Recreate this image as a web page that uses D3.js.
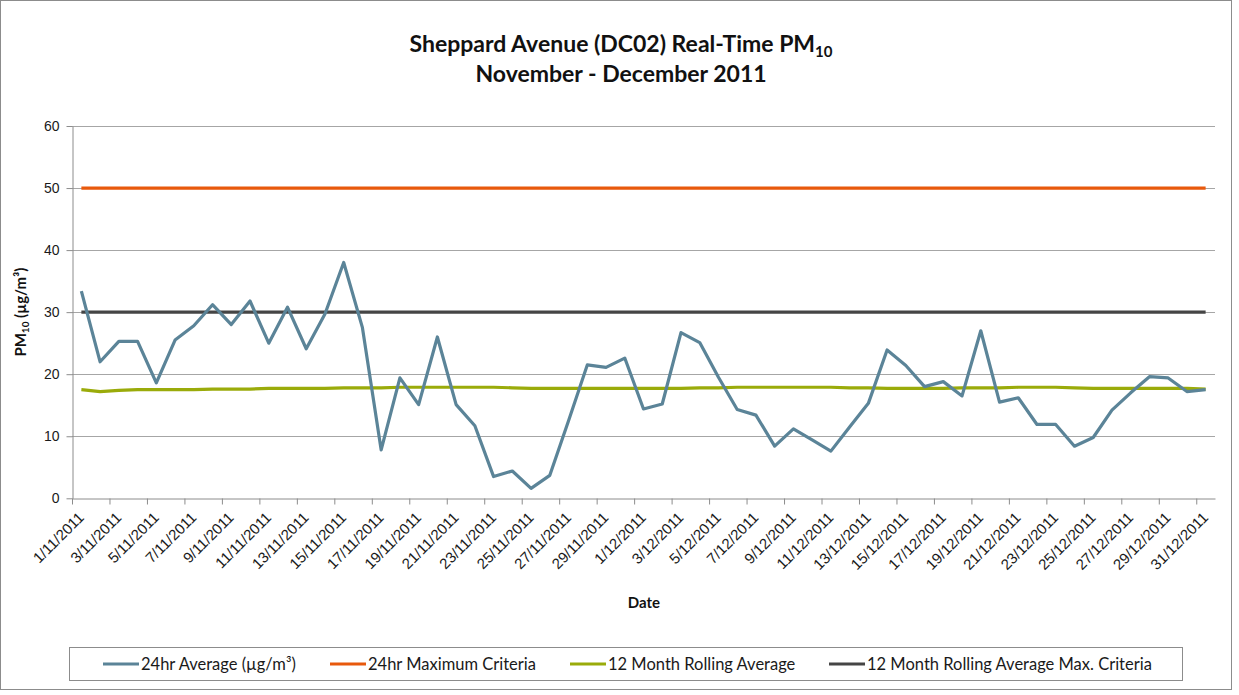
<!DOCTYPE html>
<html>
<head>
<meta charset="utf-8">
<script src="https://cdn.jsdelivr.net/npm/d3@7"></script>
<style>
  body { margin: 0; background: #fff; }
  svg { font-family: Lato, "Open Sans", sans-serif; }
</style>
</head>
<body>
<svg id="chart" width="1239" height="695"></svg>
<script>
// category labels, one per day
const dates = [
  "1/11/2011","2/11/2011","3/11/2011","4/11/2011","5/11/2011","6/11/2011","7/11/2011","8/11/2011",
  "9/11/2011","10/11/2011","11/11/2011","12/11/2011","13/11/2011","14/11/2011","15/11/2011","16/11/2011",
  "17/11/2011","18/11/2011","19/11/2011","20/11/2011","21/11/2011","22/11/2011","23/11/2011","24/11/2011",
  "25/11/2011","26/11/2011","27/11/2011","28/11/2011","29/11/2011","30/11/2011",
  "1/12/2011","2/12/2011","3/12/2011","4/12/2011","5/12/2011","6/12/2011","7/12/2011","8/12/2011",
  "9/12/2011","10/12/2011","11/12/2011","12/12/2011","13/12/2011","14/12/2011","15/12/2011","16/12/2011",
  "17/12/2011","18/12/2011","19/12/2011","20/12/2011","21/12/2011","22/12/2011","23/12/2011","24/12/2011",
  "25/12/2011","26/12/2011","27/12/2011","28/12/2011","29/12/2011","30/12/2011","31/12/2011"
];

// 24hr average (ug/m3)
const avg24 = [
  33.4, 22.0, 25.3, 25.3, 18.6, 25.5, 27.8, 31.2, 28.0, 31.8,
  25.0, 30.8, 24.1, 29.7, 38.0, 27.5, 7.8, 19.4, 15.1, 26.0,
  15.1, 11.7, 3.5, 4.4, 1.6, 3.7, 12.5, 21.5, 21.1, 22.6,
  14.4, 15.2, 26.7, 25.1, 19.5, 14.3, 13.4, 8.4, 11.2, 9.4,
  7.6, 11.5, 15.3, 23.9, 21.4, 18.0, 18.8, 16.5, 27.0, 15.5,
  16.2, 11.9, 11.9, 8.4, 9.8, 14.2, 17.0, 19.6, 19.4, 17.2, 17.5
];

// 12 month rolling average
const rolling12 = [
  17.5, 17.2, 17.4, 17.5, 17.5, 17.5, 17.5, 17.6, 17.6, 17.6,
  17.7, 17.7, 17.7, 17.7, 17.8, 17.8, 17.8, 17.9, 17.9, 17.9,
  17.9, 17.9, 17.9, 17.8, 17.7, 17.7, 17.7, 17.7, 17.7, 17.7,
  17.7, 17.7, 17.7, 17.8, 17.8, 17.9, 17.9, 17.9, 17.9, 17.9,
  17.9, 17.8, 17.8, 17.7, 17.7, 17.7, 17.7, 17.8, 17.8, 17.8,
  17.9, 17.9, 17.9, 17.8, 17.7, 17.7, 17.7, 17.7, 17.7, 17.7, 17.6
];

const max24Criteria = 50;
const rollingMaxCriteria = 30;
const yTicks = [0, 10, 20, 30, 40, 50, 60];

const colors = {
  avg: "#5b8498",
  max24: "#e8590c",
  rolling: "#9aab0a",
  rollingMax: "#454545"
};

const margins = { top: 126, right: 24, bottom: 197, left: 72 };
const W = 1239, H = 695;

const svg = d3.select("#chart");

// outer chart frame
svg.append("rect")
  .attr("x", 0.5).attr("y", 0.5)
  .attr("width", 1231).attr("height", 689)
  .attr("fill", "#fff").attr("stroke", "#8c8c8c");

const x = d3.scaleLinear()
  .domain([-0.5, dates.length - 0.5])
  .range([margins.left, W - margins.right]);
const y = d3.scaleLinear()
  .domain([0, 60])
  .range([H - margins.bottom + 0.3, margins.top]);

// gridlines
svg.append("g")
  .selectAll("line")
  .data(yTicks.filter(d => d > 0))
  .join("line")
    .attr("x1", x.range()[0]).attr("x2", x.range()[1])
    .attr("y1", d => Math.round(y(d)) + 0.5).attr("y2", d => Math.round(y(d)) + 0.5)
    .attr("stroke", "#a6a6a6");

// y axis
svg.append("g")
  .attr("transform", `translate(${margins.left + 0.5},0)`)
  .call(d3.axisLeft(y).tickValues(yTicks).tickSize(6).tickSizeOuter(0).tickPadding(7))
  .call(g => g.selectAll("path,line").attr("stroke", "#8c8c8c"))
  .call(g => g.selectAll("text").attr("fill", "#1a1a1a").style("font-size", "14px"));

// x axis: tick marks between every second category
const x0 = Math.round(y(0)) + 0.5;
svg.append("g")
  .attr("transform", `translate(0,${x0})`)
  .call(d3.axisBottom(x)
    .tickValues(d3.range(0, dates.length, 2).map(i => i - 0.5))
    .tickFormat("")
    .tickSize(6)
    .tickSizeOuter(0))
  .call(g => g.selectAll("path,line").attr("stroke", "#8c8c8c"));

// x labels at every second category centre
svg.append("g")
  .attr("transform", `translate(0,${x0})`)
  .call(d3.axisBottom(x)
    .tickValues(d3.range(0, dates.length, 2))
    .tickFormat(i => dates[i])
    .tickSize(0))
  .call(g => g.select(".domain").remove())
  .call(g => g.selectAll("text")
    .attr("fill", "#1a1a1a")
    .style("font-size", "15px")
    .attr("text-anchor", "end")
    .attr("y", 0)
    .attr("dy", null)
    .attr("transform", "translate(3,20) rotate(-45)"));

// series lines
const line = d3.line()
  .x((d, i) => x(i))
  .y(d => y(d));

const plot = svg.append("g")
  .attr("fill", "none")
  .attr("stroke-width", 3.2)
  .attr("stroke-linejoin", "round");

plot.append("path")
  .attr("stroke", colors.max24)
  .attr("d", line(dates.map(() => max24Criteria)));
plot.append("path")
  .attr("stroke", colors.rollingMax)
  .attr("d", line(dates.map(() => rollingMaxCriteria)));
plot.append("path")
  .attr("stroke", colors.rolling)
  .attr("d", line(rolling12));
plot.append("path")
  .attr("stroke", colors.avg)
  .attr("d", line(avg24));

// title
const title = svg.append("text")
  .attr("x", 621).attr("y", 52)
  .attr("text-anchor", "middle")
  .style("font-size", "23px").style("font-weight", "bold")
  .attr("fill", "#111");
title.append("tspan").text("Sheppard Avenue (DC02) Real-Time PM");
title.append("tspan").attr("dy", 5).style("font-size", "15px").text("10");
svg.append("text")
  .attr("x", 621).attr("y", 82)
  .attr("text-anchor", "middle")
  .style("font-size", "23px").style("font-weight", "bold")
  .attr("fill", "#111")
  .text("November - December 2011");

// axis titles
svg.append("text")
  .attr("x", 644).attr("y", 608)
  .attr("text-anchor", "middle")
  .style("font-size", "15px").style("font-weight", "bold")
  .attr("fill", "#111")
  .text("Date");

const yTitle = svg.append("text")
  .attr("transform", `translate(26,${(y(0) + y(60)) / 2}) rotate(-90)`)
  .attr("text-anchor", "middle")
  .style("font-size", "15px").style("font-weight", "bold")
  .attr("fill", "#111");
yTitle.append("tspan").text("PM");
yTitle.append("tspan").attr("dy", 3).style("font-size", "10px").text("10");
yTitle.append("tspan").attr("dy", -3).text(" (µg/m³)");

// legend
const legendItems = [
  { label: "24hr Average (µg/m³)", color: colors.avg, x: 103 },
  { label: "24hr Maximum Criteria", color: colors.max24, x: 330 },
  { label: "12 Month Rolling Average", color: colors.rolling, x: 570 },
  { label: "12 Month Rolling Average Max. Criteria", color: colors.rollingMax, x: 829 }
];
svg.append("rect")
  .attr("x", 69.5).attr("y", 647.5)
  .attr("width", 1113).attr("height", 33)
  .attr("fill", "#fff").attr("stroke", "#8c8c8c");
const legend = svg.append("g")
  .selectAll("g")
  .data(legendItems)
  .join("g")
    .attr("transform", d => `translate(${d.x},664)`);
legend.append("line")
  .attr("x1", 0).attr("x2", 36)
  .attr("stroke", d => d.color)
  .attr("stroke-width", 3.2);
legend.append("text")
  .attr("x", 38).attr("dy", "0.35em")
  .style("font-size", "16.5px")
  .attr("fill", "#1a1a1a")
  .text(d => d.label);
</script>
</body>
</html>
